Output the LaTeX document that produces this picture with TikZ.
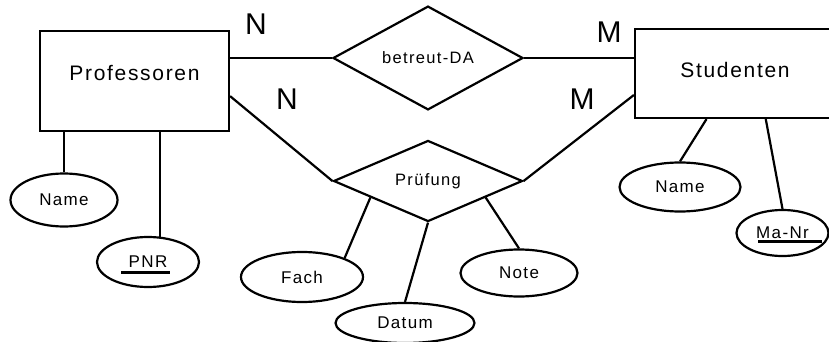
\documentclass[tikz,border=0pt]{standalone}
\usepackage{fontspec}
\newfontfamily\erfont{Liberation Sans}[LetterSpace=8]
\usepackage{tikz}
\usetikzlibrary{shapes,shapes.geometric}

\tikzset{
	entity/.style={draw, rectangle, inner sep=0pt, font=\erfont\fontsize{21}{25}\selectfont},
	rel/.style={draw, diamond, inner sep=0pt, font=\erfont\fontsize{16.5}{19}\selectfont},
	attr/.style={draw, ellipse, inner sep=0pt, font=\erfont\fontsize{17}{20}\selectfont},
	card/.style={inner sep=0pt, font=\erfont\fontsize{30}{34}\selectfont},
	keyline/.style={line width=3pt}
}

\begin{document}
\begin{tikzpicture}[x=1pt, y=-1pt, line width=2.2pt]
	\useasboundingbox (0,0) rectangle (829,342);
	\clip (0,0) rectangle (829,342);

	% entities
	\node[entity, minimum width=189pt, minimum height=100pt, text depth=17pt] (prof) at (134.5,81) {Professoren};
	\node[entity, minimum width=200pt, minimum height=89pt, text depth=8pt] (stud) at (735,73.5) {Studenten};

	% relationships
	\node[rel, minimum width=190pt, minimum height=68pt] (betreut) at (428,58) {betreut-DA};
	\node[rel, minimum width=189pt, minimum height=60pt] (pruef) at (428,181) {Prüfung};

	% attributes
	\node[attr, minimum width=107pt, minimum height=53pt] (pname) at (64,200) {Name};
	\node[attr, minimum width=102pt, minimum height=50pt] (pnr) at (148,262) {PNR};
	\node[attr, minimum width=122pt, minimum height=50pt] (fach) at (302,277) {Fach};
	\node[attr, minimum width=139pt, minimum height=40pt] (datum) at (405,323) {Datum};
	\node[attr, minimum width=117pt, minimum height=47pt] (note) at (519,273) {Note};
	\node[attr, minimum width=121pt, minimum height=49pt] (sname) at (680,187) {Name};
	\node[attr, minimum width=92pt, minimum height=46pt] (manr) at (782.5,233) {Ma-Nr};

	% cardinalities
	\node[card] (n1) at (256,24) {N};
	\node[card] (n2) at (287,99) {N};
	\node[card] (m1) at (609,32) {M};
	\node[card] (m2) at (582,99.5) {M};

	% connectors
	\draw (betreut.west) -- (prof.east |- betreut.west);
	\draw (betreut.east) -- (stud.west |- betreut.east);
	\draw (prof.-9) -- (pruef.west);
	\draw (pruef.east) -- (stud.192);
	\draw (pname.north) -- (pname.north |- prof.south);
	\draw (pnr.65) -- (pnr.65 |- prof.south);
	\draw (pruef.196) -- (fach.24);
	\draw (pruef.south) -- (datum.north);
	\draw (pruef.-16) -- (note.north);
	\draw (stud.238) -- (sname.north);
	\draw (stud.-56) -- (manr.north);

	% key underlines
	\draw[keyline] ([xshift=-27pt,yshift=-10pt]pnr.center) -- ++(49,0);
	\draw[keyline] ([xshift=-24.5pt,yshift=-8pt]manr.center) -- ++(64,0);
\end{tikzpicture}
\end{document}
